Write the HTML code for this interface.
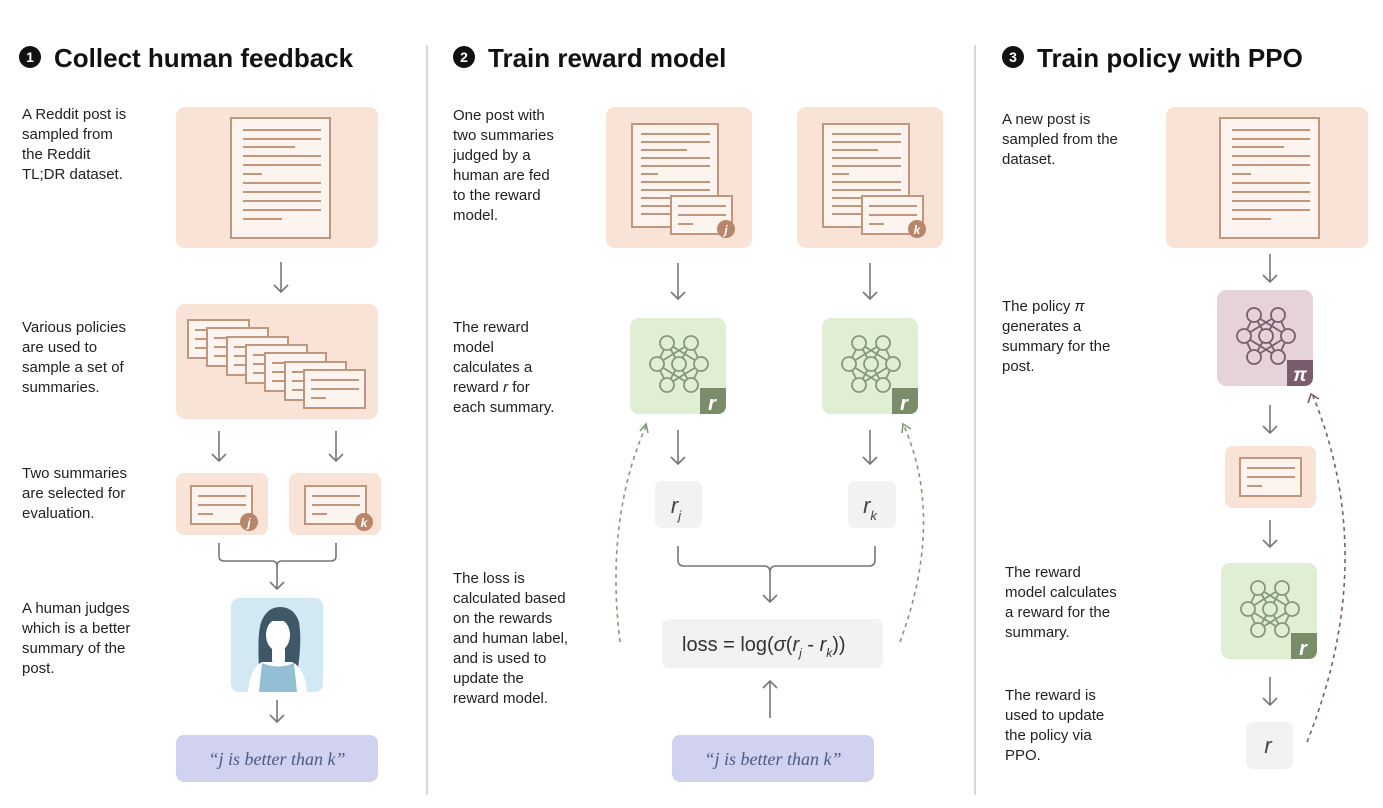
<!DOCTYPE html>
<html><head><meta charset="utf-8"><style>
html,body{margin:0;padding:0;background:#fff}
svg{display:block}
text{font-family:"Liberation Sans",sans-serif}
.t{font-size:15px;fill:#222}
.h{font-size:26px;font-weight:bold;fill:#111}
.ln{stroke:#c0977c;stroke-width:2}
.ar{stroke:#777;stroke-width:1.6;fill:none}
.q{font-family:"Liberation Serif",serif;font-style:italic;font-size:18px;fill:#4a5a85}
</style></head><body>
<svg width="1383" height="808" viewBox="0 0 1383 808" xmlns="http://www.w3.org/2000/svg">
<defs>
<g id="doc">
<rect x="0" y="0" width="99" height="120" fill="#fdf4ef" stroke="#c0977c" stroke-width="2"/>
<g class="ln">
<line x1="12" y1="12" x2="90" y2="12"/><line x1="12" y1="21" x2="90" y2="21"/><line x1="12" y1="29" x2="64" y2="29"/>
<line x1="12" y1="38" x2="90" y2="38"/><line x1="12" y1="47" x2="90" y2="47"/><line x1="12" y1="56" x2="31" y2="56"/>
<line x1="12" y1="65" x2="90" y2="65"/><line x1="12" y1="74" x2="90" y2="74"/><line x1="12" y1="83" x2="90" y2="83"/>
<line x1="12" y1="92" x2="90" y2="92"/><line x1="12" y1="101" x2="51" y2="101"/>
</g></g>
<g id="doc2">
<rect x="0" y="0" width="86" height="103" fill="#fdf4ef" stroke="#c0977c" stroke-width="2"/>
<g class="ln">
<line x1="9" y1="10" x2="78" y2="10"/><line x1="9" y1="18" x2="78" y2="18"/><line x1="9" y1="26" x2="55" y2="26"/>
<line x1="9" y1="34" x2="78" y2="34"/><line x1="9" y1="42" x2="78" y2="42"/><line x1="9" y1="50" x2="26" y2="50"/>
<line x1="9" y1="58" x2="78" y2="58"/><line x1="9" y1="66" x2="78" y2="66"/><line x1="9" y1="74" x2="78" y2="74"/>
<line x1="9" y1="82" x2="78" y2="82"/><line x1="9" y1="90" x2="78" y2="90"/>
</g></g>
<g id="card">
<rect x="0" y="0" width="61" height="38" fill="#fdf4ef" stroke="#c0977c" stroke-width="2"/>
<g class="ln"><line x1="7" y1="10" x2="55" y2="10"/><line x1="7" y1="19" x2="55" y2="19"/><line x1="7" y1="28" x2="22" y2="28"/></g>
</g>
<path id="netl" fill="none" stroke-width="1.8" d="M-12,-21L-22,0M-12,-21L0,0M-12,-21L22,0M12,-21L-22,0M12,-21L0,0M12,-21L22,0M-22,0L-12,21M-22,0L12,21M0,0L-12,21M0,0L12,21M22,0L-12,21M22,0L12,21"/>
<g id="netc" stroke-width="1.8">
<circle cx="-12" cy="-21" r="7"/><circle cx="12" cy="-21" r="7"/>
<circle cx="-22" cy="0" r="7"/><circle cx="0" cy="0" r="7"/><circle cx="22" cy="0" r="7"/>
<circle cx="-12" cy="21" r="7"/><circle cx="12" cy="21" r="7"/>
</g>
<g id="netG"><use href="#netl" stroke="#85997a"/><use href="#netc" stroke="#85997a" fill="#e0eed3"/></g>
<g id="netP"><use href="#netl" stroke="#7a5c6c"/><use href="#netc" stroke="#7a5c6c" fill="#e5d3d9"/></g>
</defs>

<line x1="427" y1="45" x2="427" y2="795" stroke="#ccc" stroke-width="1.5"/>
<line x1="975" y1="45" x2="975" y2="795" stroke="#ccc" stroke-width="1.5"/>

<circle cx="30" cy="57" r="11" fill="#111"/><text x="30" y="62" text-anchor="middle" font-size="14" font-weight="bold" fill="#fff">1</text>
<text class="h" x="54" y="67">Collect human feedback</text>
<circle cx="464" cy="57" r="11" fill="#111"/><text x="464" y="62" text-anchor="middle" font-size="14" font-weight="bold" fill="#fff">2</text>
<text class="h" x="488" y="67">Train reward model</text>
<circle cx="1013" cy="57" r="11" fill="#111"/><text x="1013" y="62" text-anchor="middle" font-size="14" font-weight="bold" fill="#fff">3</text>
<text class="h" x="1037" y="67">Train policy with PPO</text>

<text class="t"><tspan x="22" y="119">A Reddit post is</tspan><tspan x="22" y="139">sampled from</tspan><tspan x="22" y="159">the Reddit</tspan><tspan x="22" y="179">TL;DR dataset.</tspan></text>
<text class="t"><tspan x="22" y="332">Various policies</tspan><tspan x="22" y="352">are used to</tspan><tspan x="22" y="372">sample a set of</tspan><tspan x="22" y="392">summaries.</tspan></text>
<text class="t"><tspan x="22" y="478">Two summaries</tspan><tspan x="22" y="498">are selected for</tspan><tspan x="22" y="518">evaluation.</tspan></text>
<text class="t"><tspan x="22" y="613">A human judges</tspan><tspan x="22" y="633">which is a better</tspan><tspan x="22" y="653">summary of the</tspan><tspan x="22" y="673">post.</tspan></text>

<rect x="176" y="107" width="202" height="141" rx="9" fill="#f9e3d6"/>
<use href="#doc" x="231" y="118"/>
<path class="ar" d="M281,262V292M274,285L281,292L288,285"/>
<rect x="176" y="304" width="202" height="115" rx="9" fill="#f9e3d6"/>
<use href="#card" x="188" y="320"/><use href="#card" x="207" y="328"/><use href="#card" x="227" y="337"/>
<use href="#card" x="246" y="345"/><use href="#card" x="265" y="353"/><use href="#card" x="285" y="362"/>
<use href="#card" x="304" y="370"/>
<path class="ar" d="M219,431V461M212,454L219,461L226,454"/>
<path class="ar" d="M336,431V461M329,454L336,461L343,454"/>
<rect x="176" y="473" width="92" height="62" rx="8" fill="#f9e3d6"/>
<use href="#card" x="191" y="486"/>
<circle cx="249" cy="522" r="9" fill="#b8876a"/><text x="249" y="527" text-anchor="middle" font-size="12" font-weight="bold" font-style="italic" fill="#fff">j</text>
<rect x="289" y="473" width="92" height="62" rx="8" fill="#f9e3d6"/>
<use href="#card" x="305" y="486"/>
<circle cx="364" cy="522" r="9" fill="#b8876a"/><text x="364" y="527" text-anchor="middle" font-size="12" font-weight="bold" font-style="italic" fill="#fff">k</text>
<path class="ar" d="M219,543V556Q219,561 224,561H272Q277,561 277,566V589M270,582L277,589L284,582M277,566Q277,561 282,561H331Q336,561 336,556V543"/>
<rect x="231" y="598" width="92" height="94" rx="8" fill="#d2e8f2"/>
<path d="M259,668 Q257,630 262,620 Q268,607 280,607 Q294,607 299,622 Q302,640 298,668Z" fill="#3e5868"/>
<path d="M248,692 Q250,668 262,662 L292,662 Q305,668 307,692Z" fill="#fff"/>
<path d="M259,692 L262,663 Q278,670 294,663 L297,692Z" fill="#93bfd4"/>
<rect x="272" y="645" width="13" height="20" rx="5" fill="#fff"/>
<ellipse cx="278" cy="635" rx="12" ry="16" fill="#fff"/>
<path d="M262,627 Q264,612 280,612 Q296,612 296,630 L290,621 L266,621Z" fill="#3e5868"/>
<path class="ar" d="M277,700V722M270,715L277,722L284,715"/>
<rect x="176" y="735" width="202" height="47" rx="8" fill="#d1d1f0"/>
<text x="277" y="765" text-anchor="middle" class="q">“j is better than k”</text>

<text class="t"><tspan x="453" y="120">One post with</tspan><tspan x="453" y="140">two summaries</tspan><tspan x="453" y="160">judged by a</tspan><tspan x="453" y="180">human are fed</tspan><tspan x="453" y="200">to the reward</tspan><tspan x="453" y="220">model.</tspan></text>
<text class="t"><tspan x="453" y="332">The reward</tspan><tspan x="453" y="352">model</tspan><tspan x="453" y="372">calculates a</tspan><tspan x="453" y="392">reward <tspan font-style="italic">r</tspan> for</tspan><tspan x="453" y="412">each summary.</tspan></text>
<text class="t"><tspan x="453" y="583">The loss is</tspan><tspan x="453" y="603">calculated based</tspan><tspan x="453" y="623">on the rewards</tspan><tspan x="453" y="643">and human label,</tspan><tspan x="453" y="663">and is used to</tspan><tspan x="453" y="683">update the</tspan><tspan x="453" y="703">reward model.</tspan></text>

<rect x="606" y="107" width="146" height="141" rx="9" fill="#f9e3d6"/>
<use href="#doc2" x="632" y="124"/>
<use href="#card" x="671" y="196"/>
<circle cx="726" cy="229" r="9" fill="#b8876a"/><text x="726" y="234" text-anchor="middle" font-size="12" font-weight="bold" font-style="italic" fill="#fff">j</text>
<rect x="797" y="107" width="146" height="141" rx="9" fill="#f9e3d6"/>
<use href="#doc2" x="823" y="124"/>
<use href="#card" x="862" y="196"/>
<circle cx="917" cy="229" r="9" fill="#b8876a"/><text x="917" y="234" text-anchor="middle" font-size="12" font-weight="bold" font-style="italic" fill="#fff">k</text>
<path class="ar" d="M678,263V299M671,292L678,299L685,292"/>
<path class="ar" d="M870,263V299M863,292L870,299L877,292"/>
<rect x="630" y="318" width="96" height="96" rx="9" fill="#e0eed3"/>
<use href="#netG" x="679" y="364"/>
<path d="M700,388H726V405Q726,414 717,414H700Z" fill="#7a8d6a"/>
<text x="712" y="410" text-anchor="middle" font-size="20" font-style="italic" font-weight="bold" fill="#fff">r</text>
<rect x="822" y="318" width="96" height="96" rx="9" fill="#e0eed3"/>
<use href="#netG" x="871" y="364"/>
<path d="M892,388H918V405Q918,414 909,414H892Z" fill="#7a8d6a"/>
<text x="904" y="410" text-anchor="middle" font-size="20" font-style="italic" font-weight="bold" fill="#fff">r</text>
<path class="ar" d="M678,430V464M671,457L678,464L685,457"/>
<path class="ar" d="M870,430V464M863,457L870,464L877,457"/>
<rect x="655" y="481" width="47" height="47" rx="7" fill="#f2f2f2"/>
<text x="676" y="513" text-anchor="middle" font-size="22" font-style="italic" fill="#444">r<tspan font-size="13" dy="7">j</tspan></text>
<rect x="848" y="481" width="48" height="47" rx="7" fill="#f2f2f2"/>
<text x="870" y="513" text-anchor="middle" font-size="22" font-style="italic" fill="#444">r<tspan font-size="13" dy="7">k</tspan></text>
<path class="ar" d="M678,546V560Q678,566 684,566H764Q770,566 770,572V602M763,595L770,602L777,595M770,572Q770,566 776,566H869Q875,566 875,560V546"/>
<rect x="662" y="619" width="221" height="49" rx="7" fill="#f2f2f2"/>
<text x="682" y="651" font-size="20" fill="#333">loss = log(<tspan font-style="italic">σ</tspan>(<tspan font-style="italic">r</tspan><tspan font-size="12" dy="6" font-style="italic">j</tspan><tspan dy="-6"> - </tspan><tspan font-style="italic">r</tspan><tspan font-size="12" dy="6" font-style="italic">k</tspan><tspan dy="-6">))</tspan></text>
<path class="ar" d="M770,718V681M763,688L770,681L777,688"/>
<rect x="672" y="735" width="202" height="47" rx="8" fill="#d1d1f0"/>
<text x="773" y="765" text-anchor="middle" class="q">“j is better than k”</text>
<path d="M620,642 Q605,520 646,426" fill="none" stroke="#85997a" stroke-width="1.6" stroke-dasharray="4,4"/>
<path d="M640,431L646,424L648,433" fill="none" stroke="#85997a" stroke-width="1.6"/>
<path d="M900,642 Q945,520 904,426" fill="none" stroke="#85997a" stroke-width="1.6" stroke-dasharray="4,4"/>
<path d="M902,433L903,424L911,429" fill="none" stroke="#85997a" stroke-width="1.6"/>

<text class="t"><tspan x="1002" y="124">A new post is</tspan><tspan x="1002" y="144">sampled from the</tspan><tspan x="1002" y="164">dataset.</tspan></text>
<text class="t"><tspan x="1002" y="311">The policy <tspan font-style="italic">π</tspan></tspan><tspan x="1002" y="331">generates a</tspan><tspan x="1002" y="351">summary for the</tspan><tspan x="1002" y="371">post.</tspan></text>
<text class="t"><tspan x="1005" y="577">The reward</tspan><tspan x="1005" y="597">model calculates</tspan><tspan x="1005" y="617">a reward for the</tspan><tspan x="1005" y="637">summary.</tspan></text>
<text class="t"><tspan x="1005" y="700">The reward is</tspan><tspan x="1005" y="720">used to update</tspan><tspan x="1005" y="740">the policy via</tspan><tspan x="1005" y="760">PPO.</tspan></text>

<rect x="1166" y="107" width="202" height="141" rx="9" fill="#f9e3d6"/>
<use href="#doc" x="1220" y="118"/>
<path class="ar" d="M1270,254V282M1263,275L1270,282L1277,275"/>
<rect x="1217" y="290" width="96" height="96" rx="9" fill="#e5d3d9"/>
<use href="#netP" x="1266" y="336"/>
<path d="M1287,360H1313V377Q1313,386 1304,386H1287Z" fill="#7a5c6c"/>
<text x="1300" y="381" text-anchor="middle" font-size="19" font-style="italic" font-weight="bold" fill="#fff">π</text>
<path class="ar" d="M1270,405V433M1263,426L1270,433L1277,426"/>
<rect x="1225" y="446" width="91" height="62" rx="8" fill="#f9e3d6"/>
<use href="#card" x="1240" y="458"/>
<path class="ar" d="M1270,520V547M1263,540L1270,547L1277,540"/>
<rect x="1221" y="563" width="96" height="96" rx="9" fill="#e0eed3"/>
<use href="#netG" x="1270" y="609"/>
<path d="M1291,633H1317V650Q1317,659 1308,659H1291Z" fill="#7a8d6a"/>
<text x="1303" y="655" text-anchor="middle" font-size="20" font-style="italic" font-weight="bold" fill="#fff">r</text>
<path class="ar" d="M1270,677V705M1263,698L1270,705L1277,698"/>
<rect x="1246" y="722" width="47" height="47" rx="7" fill="#f2f2f2"/>
<text x="1268" y="753" text-anchor="middle" font-size="22" font-style="italic" fill="#444">r</text>
<path d="M1307,742 Q1380,560 1313,396" fill="none" stroke="#7a5c6c" stroke-width="1.6" stroke-dasharray="4,4"/>
<path d="M1308,403L1311,394L1319,399" fill="none" stroke="#7a5c6c" stroke-width="1.6"/>
</svg>
</body></html>
